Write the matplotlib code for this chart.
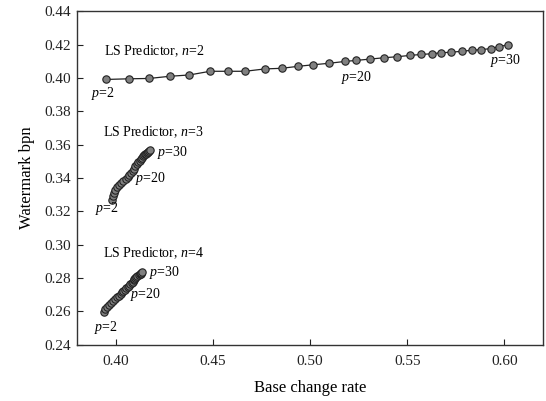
import matplotlib.pyplot as plt

plt.rcParams['font.family'] = ['Liberation Serif', 'DejaVu Serif']
plt.rcParams['mathtext.fontset'] = 'custom'
plt.rcParams['mathtext.rm'] = 'Liberation Serif'
plt.rcParams['mathtext.it'] = 'Liberation Serif:italic'

# LS predictor, n=2 (p = 2..30)
x_n2 = [0.3950, 0.4068, 0.4172, 0.4277, 0.4379, 0.4485, 0.4579, 0.4665, 0.4766, 0.4855,
        0.4940, 0.5016, 0.5098, 0.5179, 0.5235, 0.5308, 0.5379, 0.5445, 0.5513, 0.5573,
        0.5625, 0.5672, 0.5724, 0.5781, 0.5833, 0.5882, 0.5929, 0.5972, 0.6016]
y_n2 = [0.3991, 0.3995, 0.3997, 0.4010, 0.4018, 0.4040, 0.4040, 0.4040, 0.4054, 0.4058,
        0.4070, 0.4079, 0.4088, 0.4099, 0.4105, 0.4113, 0.4121, 0.4127, 0.4135, 0.4141,
        0.4145, 0.4151, 0.4154, 0.4160, 0.4166, 0.4170, 0.4176, 0.4188, 0.4198]

# n=3
x_n3 = [0.3978, 0.3983, 0.3988, 0.3995, 0.4005, 0.4017, 0.4029, 0.4039, 0.4050, 0.4060,
        0.4070, 0.4077, 0.4086, 0.4094, 0.4101, 0.4108, 0.4115, 0.4122, 0.4129, 0.4135,
        0.4140, 0.4146, 0.4151, 0.4156, 0.4159, 0.4163, 0.4166, 0.4170, 0.4175]
y_n3 = [0.3271, 0.3291, 0.3311, 0.3331, 0.3347, 0.3359, 0.3371, 0.3383, 0.3395, 0.3407,
        0.3419, 0.3431, 0.3445, 0.3457, 0.3471, 0.3483, 0.3495, 0.3505, 0.3515, 0.3523,
        0.3531, 0.3537, 0.3543, 0.3547, 0.3551, 0.3555, 0.3559, 0.3563, 0.3567]

# n=4
x_n4 = [0.3940, 0.3945, 0.3954, 0.3964, 0.3974, 0.3985, 0.3995, 0.4005, 0.4015, 0.4024,
        0.4033, 0.4039, 0.4046, 0.4053, 0.4060, 0.4067, 0.4074, 0.4081, 0.4086, 0.4091,
        0.4096, 0.4101, 0.4106, 0.4111, 0.4117, 0.4122, 0.4127, 0.4132, 0.4137]
y_n4 = [0.2594, 0.2614, 0.2626, 0.2638, 0.2650, 0.2662, 0.2674, 0.2684, 0.2694, 0.2704,
        0.2714, 0.2722, 0.2730, 0.2738, 0.2746, 0.2754, 0.2762, 0.2770, 0.2778, 0.2786,
        0.2794, 0.2800, 0.2806, 0.2812, 0.2818, 0.2822, 0.2826, 0.2830, 0.2834]

x_ticks = [0.40, 0.45, 0.50, 0.55, 0.60]
y_ticks = [0.24, 0.26, 0.28, 0.30, 0.32, 0.34, 0.36, 0.38, 0.40, 0.42, 0.44]

# annotations: (text, x, y)
labels = [
    ('LS Predictor, $n$=2', 0.3938, 0.4160),
    ('$p$=2', 0.3871, 0.3908),
    ('$p$=20', 0.5157, 0.4004),
    ('$p$=30', 0.5928, 0.4106),
    ('LS Predictor, $n$=3', 0.3932, 0.3677),
    ('$p$=30', 0.4211, 0.3551),
    ('$p$=20', 0.4099, 0.3397),
    ('$p$=2', 0.3895, 0.3215),
    ('LS Predictor, $n$=4', 0.3932, 0.2947),
    ('$p$=30', 0.4171, 0.2831),
    ('$p$=20', 0.4074, 0.2700),
    ('$p$=2', 0.3888, 0.2506),
]

fig = plt.figure(figsize=(5.46, 4.01), dpi=100)
ax = fig.add_axes([0.141, 0.140, 0.854, 0.832])

style = dict(color='#222222', linewidth=0.9, marker='o', markersize=5.3,
             markerfacecolor='#808080', markeredgecolor='#222222', markeredgewidth=0.8)
ax.plot(x_n2, y_n2, **style)
ax.plot(x_n3, y_n3, **style)
ax.plot(x_n4, y_n4, **style)

for txt, tx, ty in labels:
    ax.text(tx, ty, txt, fontsize=10, ha='left', va='center')

ax.set_xlim(0.38, 0.62)
ax.set_ylim(0.24, 0.44)
ax.set_xticks(x_ticks)
ax.set_xticklabels(['%.2f' % v for v in x_ticks])
ax.set_yticks(y_ticks)
ax.set_yticklabels(['%.2f' % v for v in y_ticks])
ax.tick_params(direction='in', length=4, width=0.8, labelsize=11, colors='#222222')
ax.tick_params(axis='x', pad=7)
ax.tick_params(axis='y', pad=4)
for s in ax.spines.values():
    s.set_color('#333333')
    s.set_linewidth(1.0)

ax.set_xlabel('Base change rate', fontsize=12, labelpad=9)
ax.set_ylabel('Watermark bpn', fontsize=12, labelpad=7)

fig.savefig('out.png', dpi=100)
